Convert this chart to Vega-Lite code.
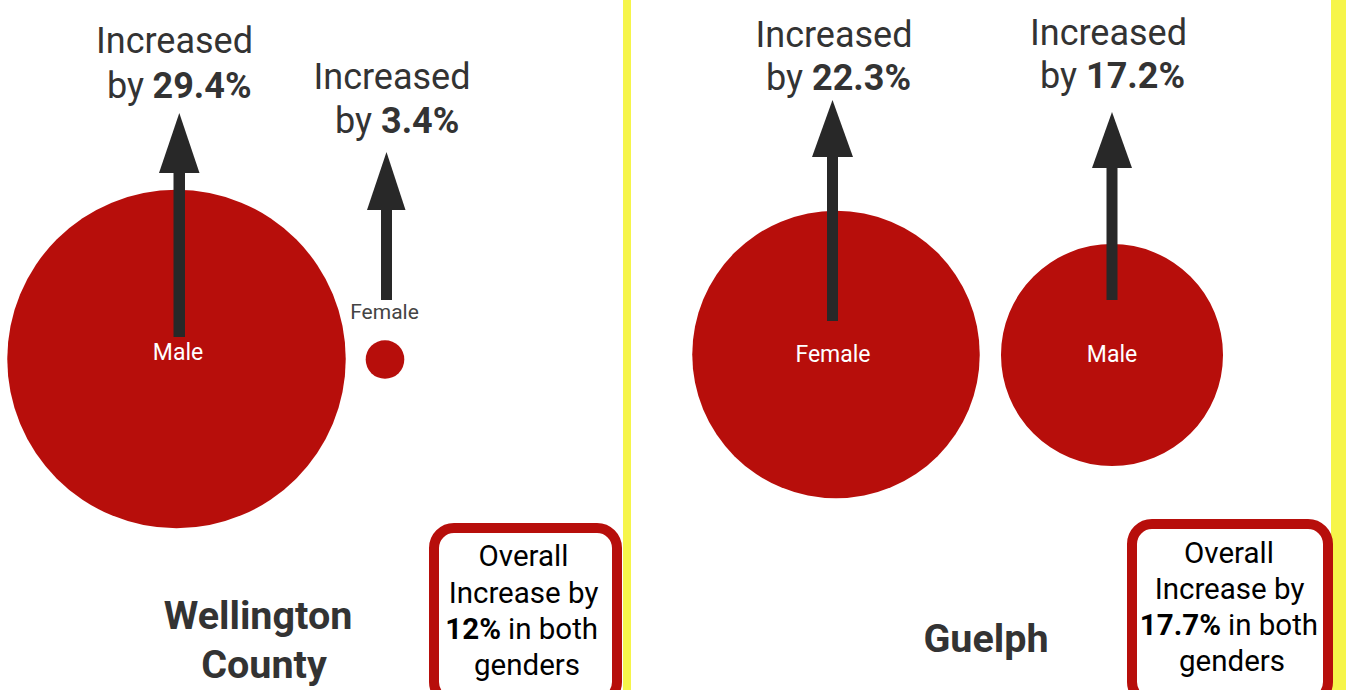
{
  "$schema": "https://vega.github.io/schema/vega-lite/v6.json",
  "width": 1346,
  "height": 690,
  "autosize": {"type": "none"},
  "padding": 0,
  "background": "white",
  "config": {"view": {"stroke": null}},
  "datasets": {
    "stripes": [
      {"x": 623, "x2": 631, "y": 0, "y2": 690},
      {"x": 1331, "x2": 1346, "y": 0, "y2": 690}
    ],
    "bubbles": [
      {"region": "Wellington County", "gender": "Male", "x": 176.5, "y": 359, "value": 899.9},
      {"region": "Wellington County", "gender": "Female", "x": 385, "y": 359.5, "value": 11.7},
      {"region": "Guelph", "gender": "Female", "x": 836, "y": 354.5, "value": 649.2},
      {"region": "Guelph", "gender": "Male", "x": 1112, "y": 355, "value": 387.1}
    ],
    "shafts": [
      {"arrow": "WM", "x": 173.5, "x2": 185, "y": 168, "y2": 337},
      {"arrow": "WF", "x": 381, "x2": 392, "y": 205, "y2": 300},
      {"arrow": "GF", "x": 827, "x2": 838, "y": 152, "y2": 321},
      {"arrow": "GM", "x": 1106.5, "x2": 1117.5, "y": 163, "y2": 300}
    ],
    "heads": [
      {"arrow": "WM", "x": 159, "y": 173, "y2": 173},
      {"arrow": "WM", "x": 179.3, "y": 113, "y2": 173},
      {"arrow": "WM", "x": 199.5, "y": 173, "y2": 173},
      {"arrow": "WF", "x": 367, "y": 210, "y2": 210},
      {"arrow": "WF", "x": 386.5, "y": 152, "y2": 210},
      {"arrow": "WF", "x": 405.5, "y": 210, "y2": 210},
      {"arrow": "GF", "x": 812, "y": 157, "y2": 157},
      {"arrow": "GF", "x": 832.5, "y": 100, "y2": 157},
      {"arrow": "GF", "x": 853, "y": 157, "y2": 157},
      {"arrow": "GM", "x": 1092, "y": 168, "y2": 168},
      {"arrow": "GM", "x": 1112, "y": 112, "y2": 168},
      {"arrow": "GM", "x": 1132, "y": 168, "y2": 168}
    ],
    "boxes": [
      {"region": "Wellington County", "x": 434, "x2": 617, "y": 528, "y2": 702},
      {"region": "Guelph", "x": 1132, "x2": 1328, "y": 524, "y2": 702}
    ],
    "labels": [
      {"role": "inc", "x": 174.5, "y": 53, "text": "Increased"},
      {"role": "inc", "x": 392, "y": 89, "text": "Increased"},
      {"role": "inc", "x": 834, "y": 47, "text": "Increased"},
      {"role": "inc", "x": 1108.5, "y": 45, "text": "Increased"},
      {"role": "by", "x": 144, "y": 98, "text": "by"},
      {"role": "by", "x": 372, "y": 133, "text": "by"},
      {"role": "by", "x": 803, "y": 90, "text": "by"},
      {"role": "by", "x": 1077, "y": 88, "text": "by"},
      {"role": "pct", "x": 152.5, "y": 98, "text": "29.4%"},
      {"role": "pct", "x": 381, "y": 133, "text": "3.4%"},
      {"role": "pct", "x": 812, "y": 90, "text": "22.3%"},
      {"role": "pct", "x": 1086, "y": 88, "text": "17.2%"},
      {"role": "inside", "x": 178, "y": 360, "text": "Male"},
      {"role": "inside", "x": 833, "y": 362, "text": "Female"},
      {"role": "inside", "x": 1112, "y": 362, "text": "Male"},
      {"role": "outside", "x": 384.5, "y": 319, "text": "Female"},
      {"role": "title", "x": 258, "y": 629, "text": "Wellington"},
      {"role": "title", "x": 264, "y": 678, "text": "County"},
      {"role": "title", "x": 986, "y": 652, "text": "Guelph"},
      {"role": "box", "x": 523.5, "y": 566, "text": "Overall"},
      {"role": "box", "x": 523.5, "y": 602.5, "text": "Increase by"},
      {"role": "box", "x": 527, "y": 675, "text": "genders"},
      {"role": "box", "x": 1229, "y": 563, "text": "Overall"},
      {"role": "box", "x": 1229.5, "y": 599, "text": "Increase by"},
      {"role": "box", "x": 1232, "y": 671, "text": "genders"},
      {"role": "boxbold", "x": 501, "y": 639, "text": "12%"},
      {"role": "boxbold", "x": 1221, "y": 635, "text": "17.7%"},
      {"role": "boxrest", "x": 508, "y": 639, "text": "in both"},
      {"role": "boxrest", "x": 1228, "y": 635, "text": "in both"}
    ]
  },
  "encoding": {
    "x": {"field": "x", "type": "quantitative", "scale": {"domain": [0, 1346], "nice": false, "zero": false}, "axis": null},
    "y": {"field": "y", "type": "quantitative", "scale": {"domain": [0, 690], "nice": false, "zero": false, "reverse": true}, "axis": null}
  },
  "layer": [
    {
      "data": {"name": "stripes"},
      "mark": {"type": "rect", "color": "#f6f54a"},
      "encoding": {"x2": {"field": "x2"}, "y2": {"field": "y2"}}
    },
    {
      "data": {"name": "bubbles"},
      "mark": {"type": "point", "shape": "circle", "filled": true, "opacity": 1, "color": "#b70e0b", "strokeWidth": 0},
      "encoding": {
        "size": {"field": "value", "type": "quantitative", "scale": {"domain": [0, 1000], "range": [0, 127324]}, "legend": null}
      }
    },
    {
      "data": {"name": "shafts"},
      "mark": {"type": "rect", "color": "#282828"},
      "encoding": {"x2": {"field": "x2"}, "y2": {"field": "y2"}}
    },
    {
      "data": {"name": "heads"},
      "mark": {"type": "area", "color": "#282828", "opacity": 1, "interpolate": "linear"},
      "encoding": {
        "y": {"field": "y", "type": "quantitative", "stack": null},
        "y2": {"field": "y2"},
        "detail": {"field": "arrow", "type": "nominal"}
      }
    },
    {
      "data": {"name": "boxes"},
      "mark": {"type": "rect", "fill": "white", "stroke": "#b70e0b", "strokeWidth": 10, "cornerRadius": 20},
      "encoding": {"x2": {"field": "x2"}, "y2": {"field": "y2"}}
    },
    {
      "data": {"name": "labels"},
      "transform": [{"filter": "datum.role === 'inc'"}],
      "mark": {"type": "text", "font": "Roboto", "fontSize": 36, "color": "#333333", "align": "center", "baseline": "alphabetic"},
      "encoding": {"text": {"field": "text"}}
    },
    {
      "data": {"name": "labels"},
      "transform": [{"filter": "datum.role === 'by'"}],
      "mark": {"type": "text", "font": "Roboto", "fontSize": 36, "color": "#333333", "align": "right", "baseline": "alphabetic"},
      "encoding": {"text": {"field": "text"}}
    },
    {
      "data": {"name": "labels"},
      "transform": [{"filter": "datum.role === 'pct'"}],
      "mark": {"type": "text", "font": "Roboto", "fontSize": 36, "fontWeight": "bold", "color": "#333333", "align": "left", "baseline": "alphabetic"},
      "encoding": {"text": {"field": "text"}}
    },
    {
      "data": {"name": "labels"},
      "transform": [{"filter": "datum.role === 'inside'"}],
      "mark": {"type": "text", "font": "Roboto", "fontSize": 23, "color": "white", "align": "center", "baseline": "alphabetic"},
      "encoding": {"text": {"field": "text"}}
    },
    {
      "data": {"name": "labels"},
      "transform": [{"filter": "datum.role === 'outside'"}],
      "mark": {"type": "text", "font": "Roboto", "fontSize": 21, "color": "#444444", "align": "center", "baseline": "alphabetic"},
      "encoding": {"text": {"field": "text"}}
    },
    {
      "data": {"name": "labels"},
      "transform": [{"filter": "datum.role === 'title'"}],
      "mark": {"type": "text", "font": "Roboto", "fontSize": 39.5, "fontWeight": "bold", "color": "#333333", "align": "center", "baseline": "alphabetic"},
      "encoding": {"text": {"field": "text"}}
    },
    {
      "data": {"name": "labels"},
      "transform": [{"filter": "datum.role === 'box'"}],
      "mark": {"type": "text", "font": "Roboto", "fontSize": 29.5, "color": "black", "align": "center", "baseline": "alphabetic"},
      "encoding": {"text": {"field": "text"}}
    },
    {
      "data": {"name": "labels"},
      "transform": [{"filter": "datum.role === 'boxbold'"}],
      "mark": {"type": "text", "font": "Roboto", "fontSize": 29.5, "fontWeight": "bold", "color": "black", "align": "right", "baseline": "alphabetic"},
      "encoding": {"text": {"field": "text"}}
    },
    {
      "data": {"name": "labels"},
      "transform": [{"filter": "datum.role === 'boxrest'"}],
      "mark": {"type": "text", "font": "Roboto", "fontSize": 29.5, "color": "black", "align": "left", "baseline": "alphabetic"},
      "encoding": {"text": {"field": "text"}}
    }
  ]
}
